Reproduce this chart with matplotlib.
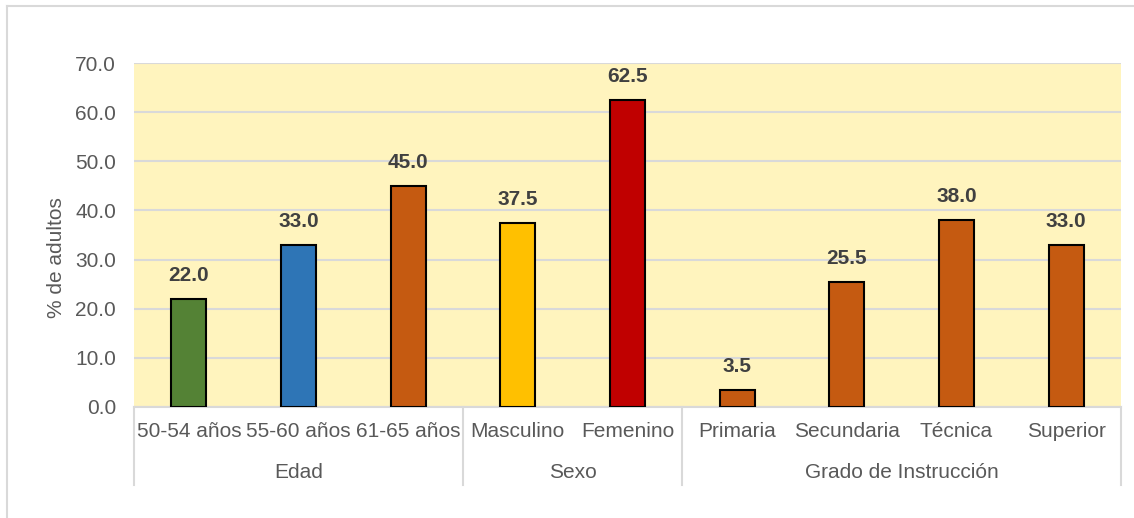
import matplotlib.pyplot as plt
import matplotlib.transforms as mtransforms
from matplotlib.lines import Line2D

plt.rcParams['font.family'] = ['Liberation Sans', 'DejaVu Sans']

# Data
categories = ['50-54 años', '55-60 años', '61-65 años', 'Masculino', 'Femenino',
              'Primaria', 'Secundaria', 'Técnica', 'Superior']
values = [22.0, 33.0, 45.0, 37.5, 62.5, 3.5, 25.5, 38.0, 33.0]
colors = ['#548235', '#2E75B6', '#C55A11', '#FFC000', '#C00000',
          '#C55A11', '#C55A11', '#C55A11', '#C55A11']
groups = ['Edad', 'Sexo', 'Grado de Instrucción']
group_sizes = [3, 2, 4]

W, H = 1134, 518
fig = plt.figure(figsize=(W / 100, H / 100), dpi=100)
ax = fig.add_axes([134 / W, (H - 407) / H, 987 / W, 344 / H])

x = list(range(len(categories)))
bars = ax.bar(x, values, width=0.32, color=colors, edgecolor='black', linewidth=1.5, zorder=3)

for xi, v in zip(x, values):
    ax.annotate(f'{v:.1f}', (xi, v), xytext=(0, 17), textcoords='offset points',
                ha='center', va='center', fontsize=15, fontweight='bold', color='#404040')

ax.set_facecolor('#FFF4BE')
ax.set_xlim(-0.5, len(categories) - 0.5)
ax.set_ylim(0, 70)
ax.set_yticks(range(0, 71, 10))
ax.set_yticklabels([f'{t:.1f}' for t in range(0, 71, 10)])
ax.yaxis.grid(True, color='#D9D9D9', linewidth=1.5, zorder=0)
ax.set_axisbelow(True)
for s in ['top', 'right', 'left']:
    ax.spines[s].set_visible(False)
ax.spines['bottom'].set_color('#D9D9D9')
ax.spines['bottom'].set_linewidth(1.5)

ax.set_xticks(x)
ax.set_xticklabels(categories, fontsize=15, color='#595959')
ax.tick_params(axis='x', length=0, pad=11)
ax.tick_params(axis='y', length=0, labelsize=15, labelcolor='#595959', pad=13)
ax.set_ylabel('% de adultos', fontsize=15, color='#595959')
ax.yaxis.set_label_coords(-0.069, 0.433)

# group labels and separators below the axis
trans = mtransforms.blended_transform_factory(ax.transData, ax.transAxes)
sep_bottom = -(485 - 407) / 344
start = -0.5
seps = [start]
for g, n in zip(groups, group_sizes):
    mid = start + n / 2
    ax.text(mid, -(472 - 407) / 344, g, transform=trans, ha='center', va='center',
            fontsize=15, color='#595959')
    start += n
    seps.append(start)
for s in seps:
    ax.add_line(Line2D([s, s], [0, sep_bottom], transform=trans, color='#D9D9D9',
                       linewidth=1.5, clip_on=False))

# outer frame (top and left edges visible)
fig.add_artist(Line2D([7 / W, 1], [1 - 6 / H, 1 - 6 / H], transform=fig.transFigure,
                      color='#D9D9D9', linewidth=1.5))
fig.add_artist(Line2D([7 / W, 7 / W], [0, 1 - 6 / H], transform=fig.transFigure,
                      color='#D9D9D9', linewidth=1.5))

fig.savefig('out.png', dpi=100, facecolor='white')
